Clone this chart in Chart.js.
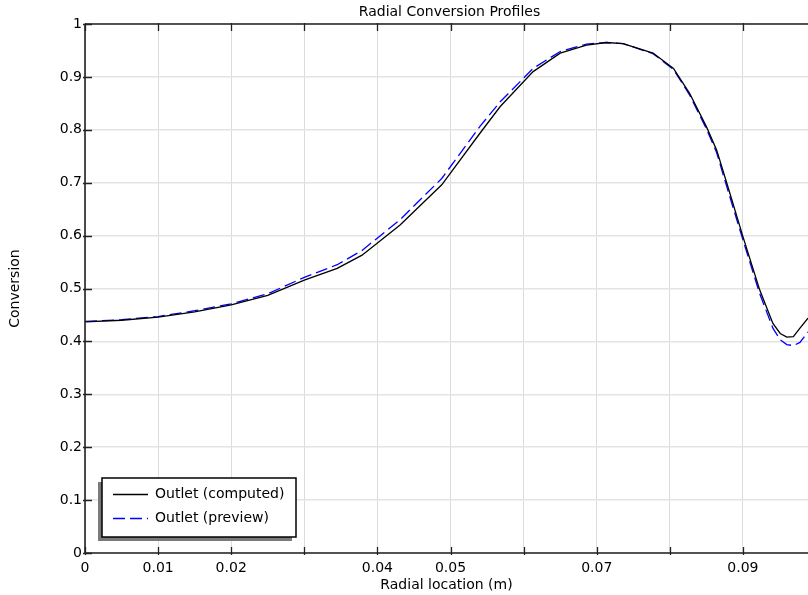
<!DOCTYPE html>
<html>
<head>
<meta charset="utf-8">
<title>Radial Conversion Profiles</title>
<script src="https://cdn.jsdelivr.net/npm/chart.js@4"></script>
<style>
  html, body { margin: 0; padding: 0; background: #fff; }
  #wrap { width: 808px; height: 595px; }
</style>
</head>
<body>
<div id="wrap"><canvas id="convChart" width="808" height="595"></canvas></div>
<script>
// data
const radialX = [0, 0.005, 0.01, 0.015, 0.02, 0.025, 0.03, 0.0345, 0.0379, 0.0431, 0.0488, 0.054, 0.0568,
  0.0613, 0.065, 0.0686, 0.0713, 0.0736, 0.0777, 0.0805, 0.0827, 0.085, 0.0864, 0.0878, 0.09, 0.0923,
  0.0941, 0.0951, 0.096, 0.0969, 0.0978, 0.0989];
const computedY = [0.437, 0.440, 0.446, 0.456, 0.469, 0.487, 0.516, 0.538, 0.563, 0.620, 0.696, 0.793, 0.844,
  0.910, 0.945, 0.960, 0.965, 0.963, 0.945, 0.916, 0.869, 0.806, 0.762, 0.699, 0.598, 0.497,
  0.434, 0.415, 0.408, 0.409, 0.425, 0.444];
const previewY = [0.438, 0.441, 0.447, 0.458, 0.471, 0.490, 0.521, 0.545, 0.572, 0.630, 0.708, 0.806, 0.853,
  0.916, 0.948, 0.962, 0.965, 0.963, 0.944, 0.914, 0.866, 0.802, 0.757, 0.692, 0.592, 0.490,
  0.425, 0.403, 0.394, 0.392, 0.398, 0.418];

const xTickValues = [0, 0.01, 0.02, 0.03, 0.04, 0.05, 0.06, 0.07, 0.08, 0.09];
const xTickLabels = ['0', '0.01', '0.02', '', '0.04', '0.05', '', '0.07', '', '0.09'];
const yTickValues = [0, 0.1, 0.2, 0.3, 0.4, 0.5, 0.6, 0.7, 0.8, 0.9, 1];
const yTickLabels = ['0', '0.1', '0.2', '0.3', '0.4', '0.5', '0.6', '0.7', '0.8', '0.9', '1'];

const seriesNames = ['Outlet (computed)', 'Outlet (preview)'];
const chartTitle = 'Radial Conversion Profiles';

Chart.defaults.font.family = "'DejaVu Sans', sans-serif";
Chart.defaults.font.size = 14;
Chart.defaults.color = '#000';

function toPoints(ys) {
  return ys.map((y, i) => ({ x: radialX[i], y: y }));
}

// frame, inward ticks, title and boxed legend
const framePlugin = {
  id: 'frame',
  afterDraw(chart) {
    const ctx = chart.ctx;
    const a = chart.chartArea;
    const xs = chart.scales.x;
    const ys = chart.scales.y;
    ctx.save();

    // title
    ctx.fillStyle = '#000';
    ctx.font = "14px 'DejaVu Sans'";
    ctx.textAlign = 'center';
    ctx.textBaseline = 'middle';
    ctx.fillText(chartTitle, (a.left + a.right) / 2 + 3, 12);

    // axis lines
    ctx.strokeStyle = '#222';
    ctx.lineWidth = 1.6;
    ctx.beginPath();
    ctx.moveTo(a.left, a.top);
    ctx.lineTo(a.right, a.top);
    ctx.moveTo(a.left, a.top);
    ctx.lineTo(a.left, a.bottom);
    ctx.lineTo(a.right, a.bottom);
    ctx.stroke();

    // tick marks
    ctx.lineWidth = 1.3;
    ctx.beginPath();
    xTickValues.forEach(v => {
      const px = Math.round(xs.getPixelForValue(v)) + 0.5;
      ctx.moveTo(px, a.bottom + 2);
      ctx.lineTo(px, a.bottom - 6);
      ctx.moveTo(px, a.top - 1);
      ctx.lineTo(px, a.top + 7);
    });
    yTickValues.forEach(v => {
      const py = Math.round(ys.getPixelForValue(v)) + 0.5;
      ctx.moveTo(a.left - 2, py);
      ctx.lineTo(a.left + 7, py);
    });
    ctx.stroke();

    // legend box with shadow
    const bx = 102, by = 478, bw = 194, bh = 59;
    ctx.fillStyle = '#7a7a7a';
    ctx.fillRect(bx - 4, by + 4, bw, bh);
    ctx.fillStyle = '#fff';
    ctx.fillRect(bx, by, bw, bh);
    ctx.strokeStyle = '#000';
    ctx.lineWidth = 1.5;
    ctx.strokeRect(bx, by, bw, bh);

    ctx.font = "14px 'DejaVu Sans'";
    chart.data.datasets.forEach((ds, i) => {
      const ry = by + 16 + i * 24;
      ctx.strokeStyle = ds.borderColor;
      ctx.lineWidth = 1.3;
      ctx.setLineDash(ds.borderDash || []);
      ctx.beginPath();
      ctx.moveTo(bx + 11, ry + 0.5);
      ctx.lineTo(bx + 46, ry + 0.5);
      ctx.stroke();
      ctx.setLineDash([]);
      ctx.fillStyle = '#000';
      ctx.textAlign = 'left';
      ctx.fillText(ds.label, bx + 53, ry);
    });

    ctx.restore();
  }
};

new Chart(document.getElementById('convChart'), {
  type: 'line',
  data: {
    datasets: [
      {
        label: seriesNames[0],
        data: toPoints(computedY),
        borderColor: '#000000',
        borderWidth: 1.3,
        pointRadius: 0,
        tension: 0,
        fill: false
      },
      {
        label: seriesNames[1],
        data: toPoints(previewY),
        borderColor: '#0000ff',
        borderWidth: 1.3,
        borderDash: [12, 5],
        pointRadius: 0,
        tension: 0,
        fill: false
      }
    ]
  },
  options: {
    responsive: false,
    animation: false,
    layout: { padding: { top: 24, right: 0, left: 0, bottom: 0 } },
    plugins: {
      legend: { display: false },
      title: { display: false },
      tooltip: { enabled: false }
    },
    scales: {
      x: {
        type: 'linear',
        min: 0,
        max: 0.0989,
        afterBuildTicks: scale => {
          scale.ticks = xTickValues.map(v => ({ value: v }));
        },
        afterFit: scale => { scale.height = 42; },
        ticks: {
          autoSkip: false,
          maxRotation: 0,
          padding: 7,
          callback: (value, index) => xTickLabels[index]
        },
        grid: { color: '#dcdcdc', lineWidth: 1, drawTicks: false },
        border: { display: false },
        title: {
          display: true,
          text: 'Radial location (m)',
          padding: { top: 0, bottom: 1 }
        }
      },
      y: {
        type: 'linear',
        min: 0,
        max: 1,
        afterBuildTicks: scale => {
          scale.ticks = yTickValues.map(v => ({ value: v }));
        },
        afterFit: scale => { scale.width = 85; },
        ticks: {
          autoSkip: false,
          padding: 3,
          callback: (value, index) => yTickLabels[index]
        },
        grid: { color: '#e3e3e3', lineWidth: 1.5, drawTicks: false },
        border: { display: false },
        title: {
          display: true,
          text: 'Conversion',
          padding: { top: 7, bottom: 0 }
        }
      }
    }
  },
  plugins: [framePlugin]
});
</script>
</body>
</html>
